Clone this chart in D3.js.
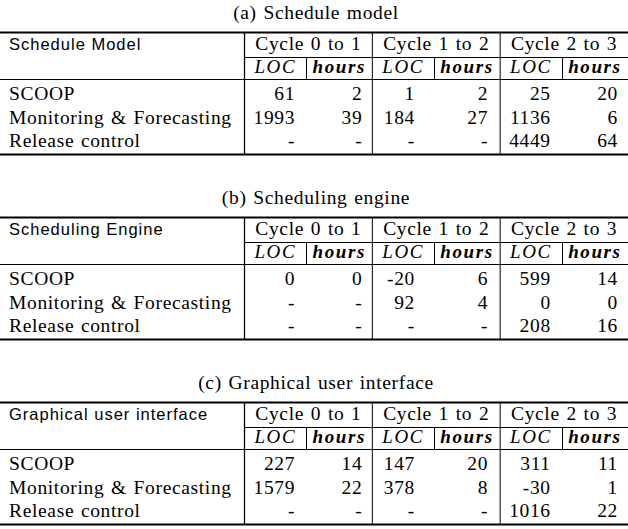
<!DOCTYPE html>
<html><head><meta charset="utf-8">
<script src="https://cdn.jsdelivr.net/npm/d3@7"></script>
<style>
html,body{margin:0;padding:0;background:#fff;}
svg{display:block;}
.serif{font-family:"Liberation Serif","Times New Roman",serif;font-size:19.5px;fill:#000;letter-spacing:0.65px;word-spacing:1.2px;}
.sans{font-family:"Liberation Sans",Arial,sans-serif;font-size:16.5px;fill:#000;letter-spacing:1px;}
.ital{font-family:"Liberation Serif","Times New Roman",serif;font-style:italic;font-size:19px;fill:#000;letter-spacing:1.6px;}
</style></head>
<body>
<svg id="chart" width="628" height="529"></svg>
<script>
// ---- data ----
const captions = ["(a) Schedule model", "(b) Scheduling engine", "(c) Graphical user interface"];
const tableHeaders = ["Schedule Model", "Scheduling Engine", "Graphical user interface"];
const components = ["SCOOP", "Monitoring & Forecasting", "Release control"];
const cycles = ["Cycle 0 to 1", "Cycle 1 to 2", "Cycle 2 to 3"];
const measures = ["LOC", "hours"];
// each row: [LOC, hours] for cycle 0-1, 1-2, 2-3; null = "-"
const scheduleModel = [
  [61, 2, 1, 2, 25, 20],
  [1993, 39, 184, 27, 1136, 6],
  [null, null, null, null, 4449, 64]
];
const schedulingEngine = [
  [0, 0, -20, 6, 599, 14],
  [null, null, 92, 4, 0, 0],
  [null, null, null, null, 208, 16]
];
const guiValues = [
  [227, 14, 147, 20, 311, 11],
  [1579, 22, 378, 8, -30, 1],
  [null, null, null, null, 1016, 22]
];
const tableValues = [scheduleModel, schedulingEngine, guiValues];

// ---- layout ----
const W = 628;
const svg = d3.select("#chart");
const xCycle = d3.scaleBand().domain(cycles).range([244.5, 628]).paddingInner(0).paddingOuter(0);
const locFrac = 0.482;
const subLeft = (c, m) => xCycle(c) + (m === 0 ? 0 : xCycle.bandwidth() * locFrac);
const subRight = (c, m) => m === 0 ? xCycle(c) + xCycle.bandwidth() * locFrac : xCycle(c) + xCycle.bandwidth();
const locPad = [11, 19, 11];
const hrsPad = [10, 12, 10];
const tableOffset = d3.scaleLinear().domain([0, 1]).range([0, 185]);
const yRow = d3.scalePoint().domain(components).range([100, 147]);

tableValues.forEach((vals, ti) => {
  const g = svg.append("g").attr("transform", `translate(0,${tableOffset(ti)})`);
  g.append("text").attr("class", "serif").attr("x", 316).attr("y", 19)
    .attr("text-anchor", "middle").text(captions[ti]);
  // rules
  g.append("line").attr("x1", 0).attr("x2", W).attr("y1", 32.5).attr("y2", 32.5).attr("stroke", "#000").attr("stroke-width", 2);
  g.append("line").attr("x1", 0).attr("x2", W).attr("y1", 154.5).attr("y2", 154.5).attr("stroke", "#000").attr("stroke-width", 2);
  g.append("line").attr("x1", 0).attr("x2", W).attr("y1", 79.5).attr("y2", 79.5).attr("stroke", "#000").attr("stroke-width", 1);
  g.append("line").attr("x1", 244.5).attr("x2", W).attr("y1", 57.5).attr("y2", 57.5).attr("stroke", "#000").attr("stroke-width", 1);
  // vertical lines
  g.append("line").attr("x1", 244.5).attr("x2", 244.5).attr("y1", 32).attr("y2", 155).attr("stroke", "#000").attr("stroke-width", 1.3);
  cycles.slice(1).forEach(c => {
    g.append("line").attr("x1", xCycle(c)).attr("x2", xCycle(c)).attr("y1", 32).attr("y2", 155).attr("stroke", "#000").attr("stroke-width", 1);
  });
  cycles.forEach(c => {
    const sx = Math.round(subLeft(c, 1)) + 0.5;
    g.append("line").attr("x1", sx).attr("x2", sx).attr("y1", 57.5).attr("y2", 79.5).attr("stroke", "#000").attr("stroke-width", 1);
  });
  // header
  g.append("text").attr("class", "sans").attr("x", 9).attr("y", 49.5).text(tableHeaders[ti]);
  cycles.forEach(c => {
    g.append("text").attr("class", "serif").attr("x", xCycle(c) + xCycle.bandwidth() / 2).attr("y", 49.5)
      .attr("text-anchor", "middle").text(c);
    measures.forEach((m, mi) => {
      g.append("text").attr("class", "ital")
        .attr("x", (subLeft(c, mi) + subRight(c, mi)) / 2).attr("y", 72.5)
        .attr("text-anchor", "middle").style("font-weight", mi === 1 ? "bold" : "normal").text(m);
    });
  });
  // body
  components.forEach((comp, ri) => {
    g.append("text").attr("class", "serif").attr("x", 9).attr("y", yRow(comp)).text(comp);
    vals[ri].forEach((v, k) => {
      const ci = Math.floor(k / 2), mi = k % 2;
      const c = cycles[ci];
      const xr = subRight(c, mi) - (mi === 0 ? locPad[ci] : hrsPad[ci]);
      g.append("text").attr("class", "serif").attr("x", xr).attr("y", yRow(comp))
        .attr("text-anchor", "end").text(v === null ? "-" : String(v));
    });
  });
});
</script>
</body></html>
